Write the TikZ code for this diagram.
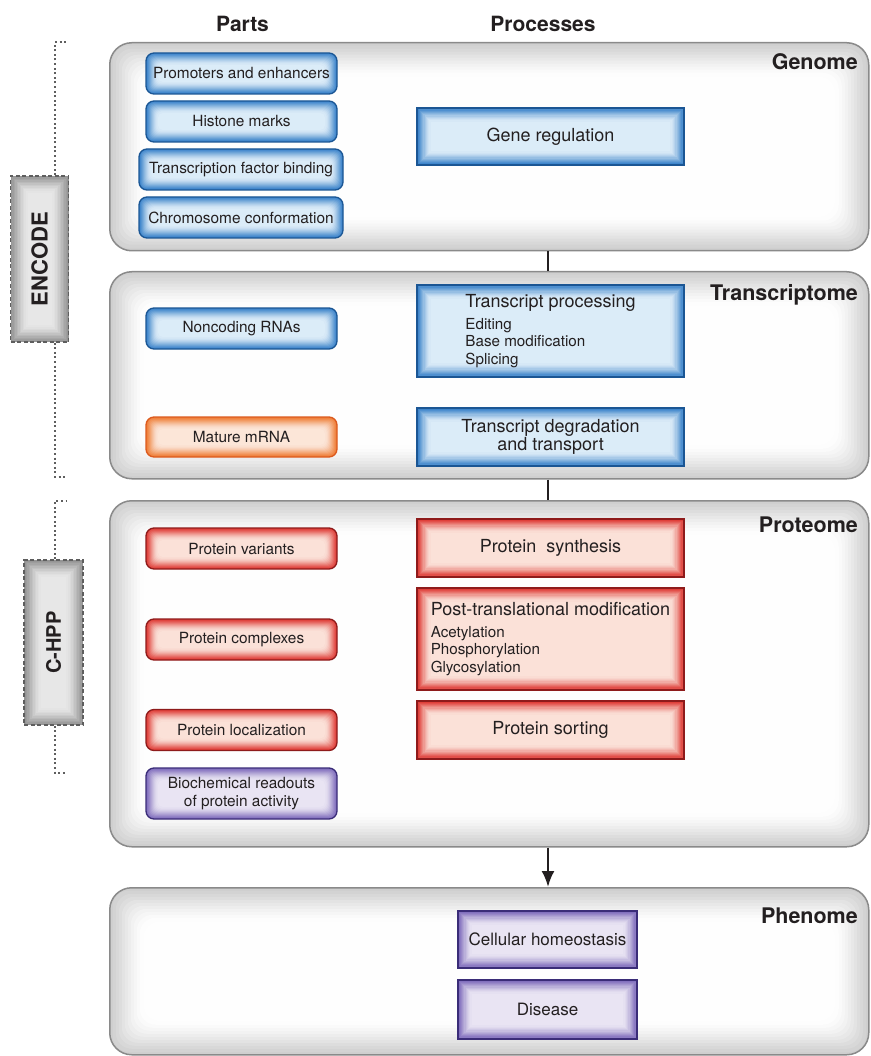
\documentclass[tikz,border=0pt]{standalone}
\usepackage{fontspec}
\setmainfont{TeX Gyre Heros}
\usetikzlibrary{arrows.meta,calc}
\definecolor{PanelLine}{HTML}{8A8A8A}
\definecolor{PanelEdge}{HTML}{CFCFCF}
\definecolor{BlueLine}{HTML}{1B5694}
\definecolor{BlueEdge}{HTML}{3F86CC}
\definecolor{BlueLight}{HTML}{DDEDF9}
\definecolor{RedLine}{HTML}{8E1B1B}
\definecolor{RedEdge}{HTML}{E0403A}
\definecolor{RedLight}{HTML}{FCE3DA}
\definecolor{OrLine}{HTML}{DC5A1E}
\definecolor{OrEdge}{HTML}{F0803A}
\definecolor{OrLight}{HTML}{FDE7DA}
\definecolor{PuLine}{HTML}{3A2C78}
\definecolor{PuEdge}{HTML}{8270BE}
\definecolor{PuLight}{HTML}{EAE5F4}
\definecolor{GrLine}{HTML}{5E5E5E}
\definecolor{GrEdge}{HTML}{959595}
\definecolor{GrLight}{HTML}{E8E8E8}
\definecolor{Ink}{HTML}{231F20}
\tikzset{
  glow/.style n args={3}{path picture={
    \foreach \d/\o in {#2}{
      \fill[#1, fill opacity=\o, #3]
        ([shift={(\d pt,\d pt)}]path picture bounding box.south west) rectangle
        ([shift={(-\d pt,-\d pt)}]path picture bounding box.north east);
    }}},
  panel/.style={draw=PanelLine, line width=1.5pt, rounded corners=22pt, fill=PanelEdge,
    glow={white}{3/0.1,6/0.12,9/0.15,12/0.18,15/0.2,18/0.25,21/0.3,24/0.35,27/0.45,30/0.6,34/0.85}{rounded corners=16pt},
    inner sep=0pt, anchor=north west},
  partbox/.style={rounded corners=8pt, line width=1.3pt, inner sep=0pt, align=center,
    text=Ink, font=\fontsize{15.4}{18}\selectfont},
  procbox/.style={line width=1.3pt, inner sep=0pt, align=left, text=Ink,
    font=\fontsize{15.2}{17.8}\selectfont},
  gsmall/.style={glow={#1}{1.5/.1,2.5/.12,3.5/.15,4.5/.18,5.5/.2,6.5/.25,7.5/.3,8.5/.35,9.5/.45,10.5/.55,12/.8}{rounded corners=5pt}},
  gbig/.style={glow={#1}{1.5/.1,2.7/.12,3.9/.15,5.1/.18,6.3/.2,7.5/.25,8.7/.3,9.9/.35,11.1/.45,12.3/.55,14/.8}{sharp corners}},
  bluep/.style={draw=BlueLine, fill=BlueEdge, gsmall=BlueLight},
  bluer/.style={draw=BlueLine, fill=BlueEdge, gbig=BlueLight},
  redp/.style={draw=RedLine, fill=RedEdge, gsmall=RedLight},
  redr/.style={draw=RedLine, fill=RedEdge, gbig=RedLight},
  orp/.style={draw=OrLine, fill=OrEdge, gsmall=OrLight},
  pup/.style={draw=PuLine, fill=PuEdge, gsmall=PuLight},
  pur/.style={draw=PuLine, fill=PuEdge, gbig=PuLight},
  hdr/.style={font=\fontsize{21}{24}\selectfont\bfseries, text=Ink, inner sep=0pt, anchor=base},
  plabel/.style={font=\fontsize{21.5}{24}\selectfont\bfseries, text=Ink, inner sep=0pt, anchor=base east},
  sidebox/.style={draw=GrLine, dashed, dash pattern=on 4pt off 2.5pt, line width=1.3pt, fill=GrEdge,
    glow={GrLight}{1.5/.1,3/.12,4.5/.15,6/.18,7.5/.2,9/.25,10.5/.3,12/.35,13.5/.45,15/.55,17/.8}{sharp corners}, inner sep=0pt, text=Ink},
  bracket/.style={draw=GrLine, line width=2pt, dash pattern=on 2pt off 2.6pt},
  link/.style={draw=Ink, line width=2.4pt},
}
\begin{document}
\begin{tikzpicture}[x=1pt,y=-1pt]
\useasboundingbox (0,0) rectangle (870,1056);
\fill[white] (0,0) rectangle (870,1056);

% headers
\node[hdr] (hparts) at (242.5,32) {Parts};
\node[hdr] (hproc) at (543,32) {Processes};

% panels
\node[panel, minimum width=759pt, minimum height=208pt] (genome) at (109,42) {};
\node[panel, minimum width=759pt, minimum height=207pt] (transcriptome) at (109,271) {};
\node[panel, minimum width=759pt, minimum height=346pt] (proteome) at (109,500) {};
\node[panel, minimum width=759pt, minimum height=167pt] (phenome) at (109,887) {};

\node[plabel] (lgen) at (858,70) {Genome};
\node[plabel] (ltra) at (858,301) {Transcriptome};
\node[plabel] (lpro) at (858,532) {Proteome};
\node[plabel] (lphe) at (858,923) {Phenome};

% genome parts
\node[partbox, bluep, minimum width=191pt, minimum height=41pt] (pe) at (241.5,73.5) {Promoters and enhancers};
\node[partbox, bluep, minimum width=191pt, minimum height=41pt] (hm) at (241.5,121.5) {Histone marks};
\node[partbox, bluep, minimum width=204pt, minimum height=41pt] (tf) at (241,169.5) {Transcription factor binding};
\node[partbox, bluep, minimum width=204pt, minimum height=41pt] (cc) at (241,217.5) {Chromosome conformation};
\node[procbox, bluer, minimum width=267pt, minimum height=57pt] (gr) at (550.5,136.5) {\fontsize{18}{21}\selectfont Gene regulation};

% transcriptome
\node[partbox, bluep, minimum width=191pt, minimum height=41pt] (nc) at (241.5,328.5) {Noncoding RNAs};
\node[partbox, orp, minimum width=191pt, minimum height=40pt] (mm) at (241.5,437) {Mature mRNA};
\node[procbox, bluer, minimum width=267pt, minimum height=92pt] (tp) at (550.5,331)
  {{\fontsize{18}{21}\selectfont Transcript processing}\\[4pt]Editing\\Base modification\\Splicing};
\node[procbox, bluer, align=center, minimum width=267pt, minimum height=58pt] (td) at (550.5,437)
  {\fontsize{18}{21}\selectfont Transcript degradation\\\fontsize{18}{21}\selectfont and transport};

% proteome
\node[partbox, redp, minimum width=191pt, minimum height=41pt] (pv) at (241.5,548.5) {Protein variants};
\node[partbox, redp, minimum width=191pt, minimum height=41pt] (pc) at (241.5,639.5) {Protein complexes};
\node[partbox, redp, minimum width=191pt, minimum height=41pt] (pl) at (241.5,730) {Protein localization};
\node[partbox, pup, minimum width=191pt, minimum height=51pt] (br) at (241.5,793.5) {Biochemical readouts\\of protein activity};
\node[procbox, redr, minimum width=267pt, minimum height=58pt] (ps) at (550.5,548) {\fontsize{18}{21}\selectfont Protein\ \ synthesis};
\node[procbox, redr, minimum width=267pt, minimum height=102pt] (ptm) at (550.5,639)
  {{\fontsize{18}{21}\selectfont Post-translational modification}\\[4pt]Acetylation\\Phosphorylation\\Glycosylation};
\node[procbox, redr, minimum width=267pt, minimum height=58pt] (pso) at (550.5,730) {\fontsize{18}{21}\selectfont Protein sorting};

% phenome
\node[procbox, pur, align=center, minimum width=179pt, minimum height=57pt] (ch) at (547.5,939.5) {\fontsize{17}{20}\selectfont Cellular homeostasis};
\node[procbox, pur, align=center, minimum width=179pt, minimum height=59pt] (di) at (547.5,1009.5) {\fontsize{17}{20}\selectfont Disease};

% connectors
\coordinate (cx) at (548,0);
\draw[link] (genome.south -| cx) -- (transcriptome.north -| cx);
\draw[link] (transcriptome.south -| cx) -- (proteome.north -| cx);
\draw[link, -{Latex[length=16pt,width=13pt]}] (proteome.south -| cx) -- (phenome.north -| cx);

% side labels
\node[sidebox, minimum width=58pt, minimum height=166pt] (encode) at (39.5,259) {};
\node[rotate=90, font=\fontsize{22}{24}\selectfont\bfseries, text=Ink, inner sep=0pt] (encl) at (encode.center) {ENCODE};
\node[sidebox, minimum width=59pt, minimum height=165pt] (chpp) at (53.5,642.5) {};
\node[rotate=90, font=\fontsize{20}{24}\selectfont\bfseries, text=Ink, inner sep=0pt] (chl) at (chpp.center) {C-HPP};

\coordinate (e1) at (55,42);
\coordinate (e1h) at (67,42);
\coordinate (e2) at (55,477);
\coordinate (e2h) at (67,477);
\draw[bracket] (encode.north -| e1) -- (e1) -- (e1h);
\draw[bracket] (encode.south -| e2) -- (e2) -- (e2h);
\coordinate (c1) at (55,501);
\coordinate (c1h) at (67,501);
\coordinate (c2) at (55,773);
\coordinate (c2h) at (67,773);
\draw[bracket] (chpp.north -| c1) -- (c1) -- (c1h);
\draw[bracket] (chpp.south -| c2) -- (c2) -- (c2h);
\end{tikzpicture}
\end{document}
